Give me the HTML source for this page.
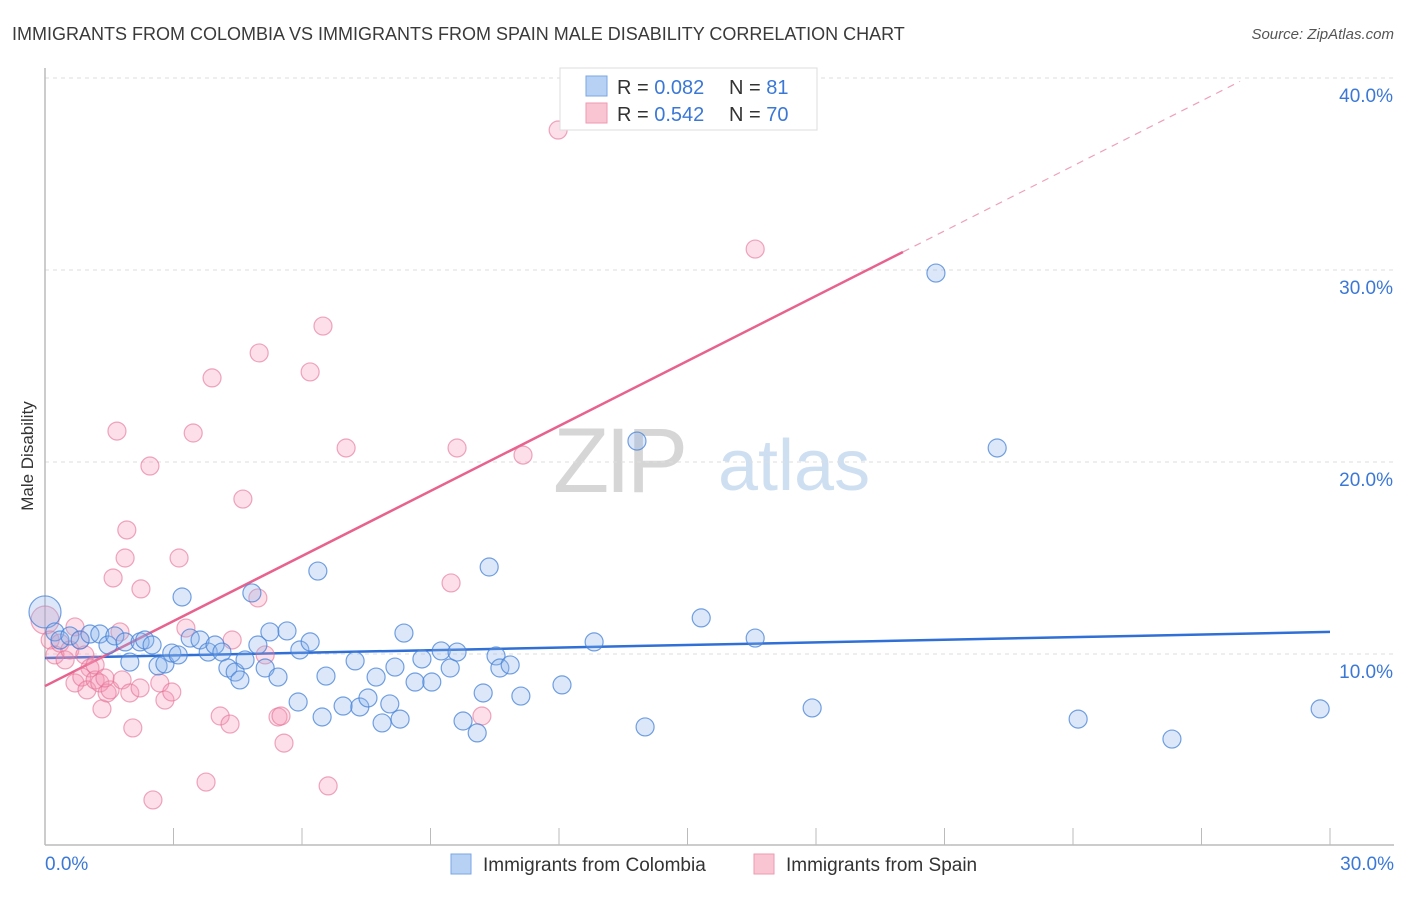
<!DOCTYPE html>
<html><head><meta charset="utf-8">
<style>
body{margin:0;background:#fff;font-family:"Liberation Sans",sans-serif;}
svg text{font-family:"Liberation Sans",sans-serif;}
</style></head>
<body>
<svg id="chart" width="1406" height="892" xmlns="http://www.w3.org/2000/svg">
<text x="12" y="40" font-size="18" fill="#3a3a3a">IMMIGRANTS FROM COLOMBIA VS IMMIGRANTS FROM SPAIN MALE DISABILITY CORRELATION CHART</text>
<text x="1394" y="39" font-size="15" fill="#555" font-style="italic" text-anchor="end">Source: ZipAtlas.com</text>
<text transform="translate(33,456) rotate(-90)" font-size="17" fill="#333" text-anchor="middle">Male Disability</text>
<g>
<text x="553" y="492" font-size="92" font-family="Liberation Serif,serif" fill="#d6d6d6" letter-spacing="-4">ZIP</text>
<text x="718" y="490" font-size="72" fill="#cfdff2">atlas</text>
</g>
<g id="grid"></g>
<g id="axes"></g>
<g id="lines"></g>
<g id="pts"></g>
<g>
<rect x="560" y="68" width="257" height="62" fill="#fff" stroke="#ddd"/>
<rect x="586" y="76" width="21" height="20" fill="#b7d1f5" stroke="#7aa6e2"/>
<rect x="586" y="103" width="21" height="20" fill="#f9c5d3" stroke="#ec9ab2"/>
<text x="617" y="94" font-size="20" fill="#333">R = <tspan fill="#3b78d6">0.082</tspan></text>
<text x="729" y="94" font-size="20" fill="#333">N = <tspan fill="#3b78d6"> 81</tspan></text>
<text x="617" y="121" font-size="20" fill="#333">R = <tspan fill="#3b78d6">0.542</tspan></text>
<text x="729" y="121" font-size="20" fill="#333">N = <tspan fill="#3b78d6">70</tspan></text>
</g>
<g>
<rect x="451" y="854" width="20" height="20" fill="#b7d1f5" stroke="#7aa6e2"/>
<text x="483" y="871" font-size="19" fill="#333">Immigrants from Colombia</text>
<rect x="754" y="854" width="20" height="20" fill="#f9c5d3" stroke="#ec9ab2"/>
<text x="786" y="871" font-size="19" fill="#333">Immigrants from Spain</text>
</g>
</svg>
<script>
const yTicks=[10,20,30,40];
const yTickLabels=["10.0%","20.0%","30.0%","40.0%"];
const xTickLabels=["0.0%","30.0%"];
const colombiaX=[0,.23,.35,.58,.82,1.05,1.28,1.47,1.63,1.87,1.98,2.22,2.33,2.50,2.64,2.80,2.96,3.11,3.20,3.39,3.62,3.81,3.97,4.13,4.27,4.44,4.55,4.67,4.83,4.97,5.14,5.25,5.44,5.65,5.91,5.95,6.19,6.37,6.47,6.56,6.96,7.24,7.35,7.54,7.73,7.87,8.05,8.17,8.29,8.38,8.64,8.80,9.03,9.25,9.46,9.62,9.76,10.09,10.23,10.37,10.53,10.62,10.86,11.11,12.07,12.82,13.82,14.01,15.32,16.58,17.91,20.80,22.23,24.12,26.31,29.77];
const colombiaY=[12.19,11.15,10.73,10.94,10.73,11.04,11.04,10.47,10.94,10.63,9.58,10.63,10.73,10.47,9.38,9.48,10.05,9.95,12.97,10.83,10.73,10.10,10.47,10.10,9.27,9.06,8.65,9.69,13.18,10.47,9.27,11.15,8.80,11.20,7.50,10.21,10.63,14.32,6.72,8.85,7.29,9.64,7.24,7.71,8.80,6.41,7.40,9.32,6.61,11.09,8.54,9.74,8.54,10.16,9.27,10.10,6.51,5.89,7.97,14.53,9.90,9.27,9.43,7.81,8.39,10.63,21.09,6.20,11.88,10.83,7.19,29.84,20.73,6.61,5.57,7.14];
const spainX=[0,.12,.23,.35,.47,.58,.70,.82,.93,1.05,.70,.86,.98,1.17,1.28,1.33,1.45,1.52,1.59,1.68,1.75,1.80,1.91,1.87,1.98,2.05,2.22,2.24,2.45,2.52,2.68,2.80,2.96,3.13,3.29,3.46,3.76,3.90,4.09,4.32,4.37,4.62,5.00,4.97,5.14,5.44,5.51,5.58,6.19,6.49,6.61,7.03,9.48,9.62,10.20,11.16,11.98,16.58,1.17,1.40];
const spainY=[11.77,10.73,9.95,10.57,9.69,10.21,11.41,10.73,9.95,9.27,8.49,8.80,8.13,8.65,8.49,7.14,7.97,8.13,13.96,21.61,11.15,8.65,16.46,15.00,7.97,6.15,8.23,13.39,19.79,2.40,8.49,7.60,8.02,15.00,11.35,21.51,3.33,24.38,6.77,6.35,10.73,18.07,25.68,12.92,9.95,6.72,6.77,5.36,24.69,27.08,3.13,20.73,13.70,20.73,6.77,20.36,37.29,31.09,9.43,8.75];
const colombiaTrend=[9.79,11.15]; // at x=0 and x=30
const spainTrend=[8.33,30.94,20.03,27.9]; // y0, y at solid end, solid end x, dashed end x
const NS="http://www.w3.org/2000/svg";
const X0=45,X1=1330,Y0=846,PPY=19.2;
function sx(v){return X0+(v/30)*(X1-X0);}
function sy(v){return Y0-v*PPY;}
function mk(tag,attrs,parent){const e=document.createElementNS(NS,tag);for(const k in attrs)e.setAttribute(k,attrs[k]);parent.appendChild(e);return e;}
const grid=document.getElementById('grid');
yTicks.forEach((t,i)=>{
 const l=mk('line',{x1:X0,x2:1394,y1:sy(t),y2:sy(t),stroke:'#ddd','stroke-dasharray':'4,4'},grid);
 
 
 const tx=mk('text',{x:1393,y:sy(t)+24,'font-size':19,fill:'#3b78d6','text-anchor':'end'},grid);
 tx.textContent=yTickLabels[i];
 
 
});
const axes=document.getElementById('axes');
const ya=mk('line',{x1:X0,x2:X0,y1:68,y2:845,stroke:'#bbb','stroke-width':1.5},axes);


const xa=mk('line',{x1:X0,x2:1394,y1:845,y2:845,stroke:'#bbb','stroke-width':1.5},axes);


for(let i=0;i<=10;i++){
 const v=i*3;
 const t=mk('line',{x1:sx(v),x2:sx(v),y1:828,y2:845,stroke:'#bbb'},axes);
 
 
}
[[0,'start',45],[30,'end',1394]].forEach((a,i)=>{
 const t=mk('text',{x:a[2],y:870,'font-size':19,fill:'#3b78d6','text-anchor':a[1]},axes);
 t.textContent=xTickLabels[i];
 
 
});
const pts=document.getElementById('pts');
spainX.forEach((x,i)=>{
 const c=mk('circle',{cx:sx(x),cy:sy(spainY[i]),r:i===0?14:9,fill:'rgba(244,150,178,0.3)',stroke:'rgba(228,110,148,0.6)','stroke-width':1.2},pts);
 
 
});
colombiaX.forEach((x,i)=>{
 const c=mk('circle',{cx:sx(x),cy:sy(colombiaY[i]),r:i===0?16:9,fill:'rgba(140,180,235,0.3)',stroke:'rgba(70,130,215,0.75)','stroke-width':1.2},pts);
 
 
});
const lines=document.getElementById('lines');
const bl=mk('line',{x1:sx(0),y1:sy(colombiaTrend[0]),x2:sx(30),y2:sy(colombiaTrend[1]),stroke:'#2f6fd6','stroke-width':2.5},lines);


const slope=(spainTrend[1]-spainTrend[0])/spainTrend[2];
const pl=mk('line',{x1:sx(0),y1:sy(spainTrend[0]),x2:sx(spainTrend[2]),y2:sy(spainTrend[1]),stroke:'#e8628e','stroke-width':2.5},lines);


const pd=mk('line',{x1:sx(spainTrend[2]),y1:sy(spainTrend[1]),x2:sx(spainTrend[3]),y2:sy(spainTrend[0]+slope*spainTrend[3]),stroke:'#eea0b8','stroke-width':1.2,'stroke-dasharray':'7,6'},lines);


</script>
</body></html>
